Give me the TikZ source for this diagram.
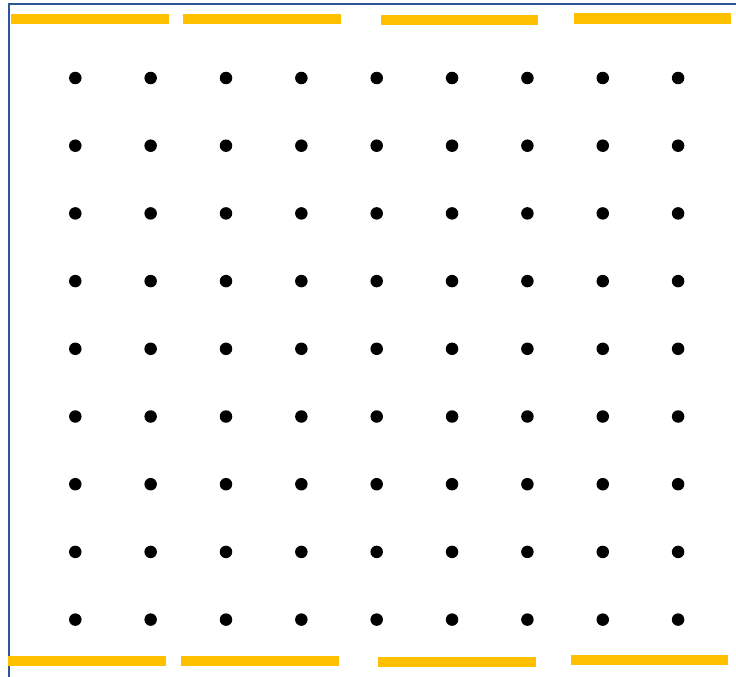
\documentclass[tikz,border=0pt]{standalone}
\definecolor{frameblue}{HTML}{2F5597}
\definecolor{baryellow}{HTML}{FFC000}
\begin{document}
\begin{tikzpicture}[x=1pt,y=-1pt,
  dotnode/.style={circle,fill=black,inner sep=0pt,minimum size=12.5pt},
  bar/.style={fill=baryellow,draw=none},
  frame/.style={draw=frameblue,line width=2pt}]
\useasboundingbox (0,0) rectangle (736,677);
\fill[white] (0,0) rectangle (736,677);
% frame (left and top edges)
\draw[frame] (9,677) -- (9,4.5) -- (736,4.5);
% top bars
\fill[bar] (11,14) rectangle (169,24.5);
\fill[bar] (183,14) rectangle (341,24.5);
\fill[bar] (380.7,15) rectangle (538,25.5);
\fill[bar] (573.7,13.3) rectangle (731.3,23.7);
% bottom bars
\fill[bar] (8,656) rectangle (165.7,666);
\fill[bar] (181,655.5) rectangle (339,665.5);
\fill[bar] (378.3,657) rectangle (536,667);
\fill[bar] (570.7,655) rectangle (728,665);
% dot grid
\foreach \i in {0,...,8}{
  \foreach \j in {0,...,8}{
    \node[dotnode] (d-\i-\j) at ({75.3+75.35*\i},{78+67.7*\j}) {};
  }
}
\end{tikzpicture}
\end{document}
